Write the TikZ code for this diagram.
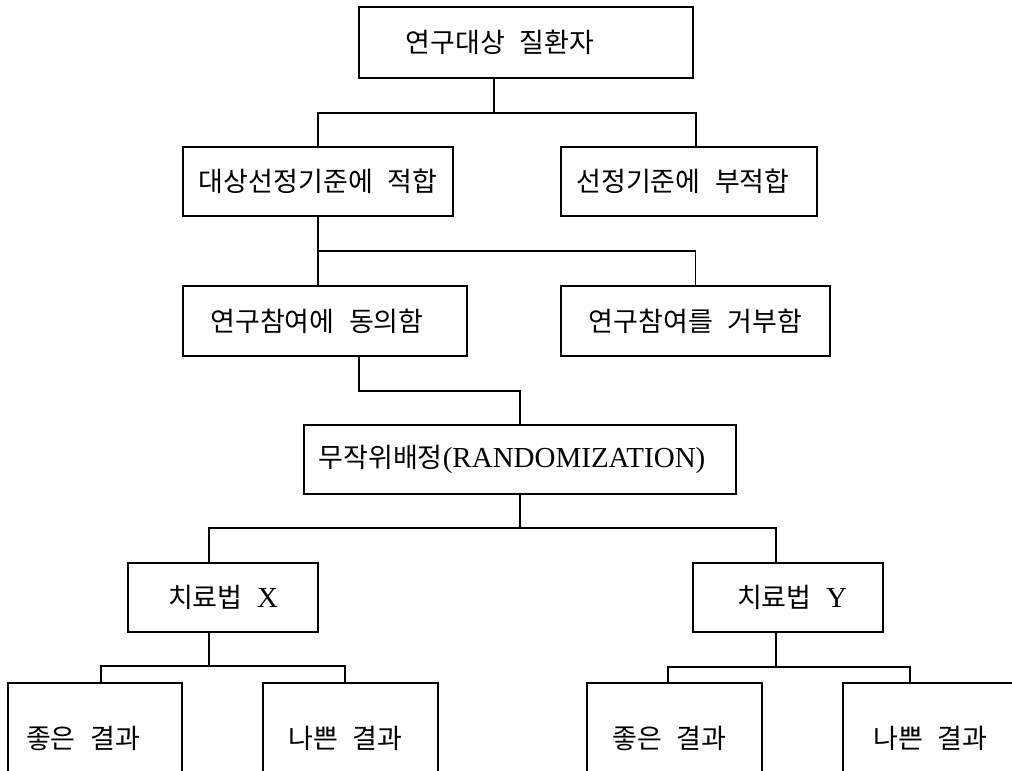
\documentclass[tikz,border=0pt]{standalone}
\usepackage{fontspec}
\setmainfont{Noto Sans CJK KR}[WordSpace=2.4]
\newfontfamily\lat{Liberation Serif}
\usetikzlibrary{calc}
\tikzset{
  box/.style={draw, line width=1.6pt, inner sep=0pt, minimum height=69pt,
    font=\fontsize{27}{31}\selectfont},
  leaf/.style={box, minimum width=175pt, minimum height=110pt},
  link/.style={line width=1.4pt},
}
\newcommand\latin[1]{{\lat\fontsize{29}{31}\selectfont #1}}
\begin{document}
\begin{tikzpicture}[x=1pt,y=-1pt]
  \useasboundingbox (0,0) rectangle (1012,771);
  \fill[white] (0,0) rectangle (1012,771);
  \clip (0,0) rectangle (1012,771);

  % boxes
  \node[box, minimum width=334pt, minimum height=71pt] (b1) at (526,42.5) {연구대상 질환자\hspace*{52pt}};
  \node[box, minimum width=270pt] (b2) at (318,181.5) {대상선정기준에 적합};
  \node[box, minimum width=256pt] (b3) at (689,181.5) {선정기준에 부적합\hspace*{12pt}};
  \node[box, minimum width=284pt, minimum height=70pt] (b4) at (325,321) {연구참여에 동의함\hspace*{16pt}};
  \node[box, minimum width=269pt, minimum height=70pt] (b5) at (695.5,321) {연구참여를 거부함};
  \node[box, minimum width=432pt] (b6) at (520,459.5) {무작위배정\latin{(RANDOMIZATION)}\hspace*{16pt}};
  \node[box, minimum width=190pt] (b7) at (223,597.5) {치료법 \latin{X}};
  \node[box, minimum width=190pt] (b10) at (788,597.5) {\hspace*{8pt}치료법 \latin{Y}};
  \node[leaf, minimum width=174pt] (b8) at (95,738) {좋은 결과\hspace*{24pt}};
  \node[leaf] (b9) at (350.5,738) {나쁜 결과\hspace*{10pt}};
  \node[leaf] (b11) at (674.5,738) {좋은 결과\hspace*{10pt}};
  \node[leaf] (b12) at (930.5,738) {나쁜 결과};

  % junctions
  \coordinate (j1) at (494,113);
  \coordinate (j2) at (318,251);
  \coordinate (j3) at (520,391);
  \coordinate (j4) at (520,528);
  \coordinate (j5) at (209,666);
  \coordinate (j6) at (776,667);

  % connectors
  \draw[link] ([xshift=-32pt]b1.south) -- (j1);
  \draw[link] (b2.north) |- (j1) -| ([xshift=7pt]b3.north);

  \draw[link] (b2.south) -- ([xshift=-7pt]b4.north);
  \draw[link] (j2) -| (b5.north);

  \draw[link] ([xshift=34pt]b4.south) |- (j3) -- (b6.north);

  \draw[link] (b6.south) -- (j4);
  \draw[link] ([xshift=-14pt]b7.north) |- (j4) -| ([xshift=-12pt]b10.north);

  \draw[link] ([xshift=-14pt]b7.south) -- (j5);
  \draw[link] ([xshift=6pt]b8.north) |- (j5) -| ([xshift=-5.5pt]b9.north);

  \draw[link] ([xshift=-12pt]b10.south) -- (j6);
  \draw[link] ([xshift=-6.5pt]b11.north) |- (j6) -| ([xshift=-20.5pt]b12.north);
\end{tikzpicture}
\end{document}
